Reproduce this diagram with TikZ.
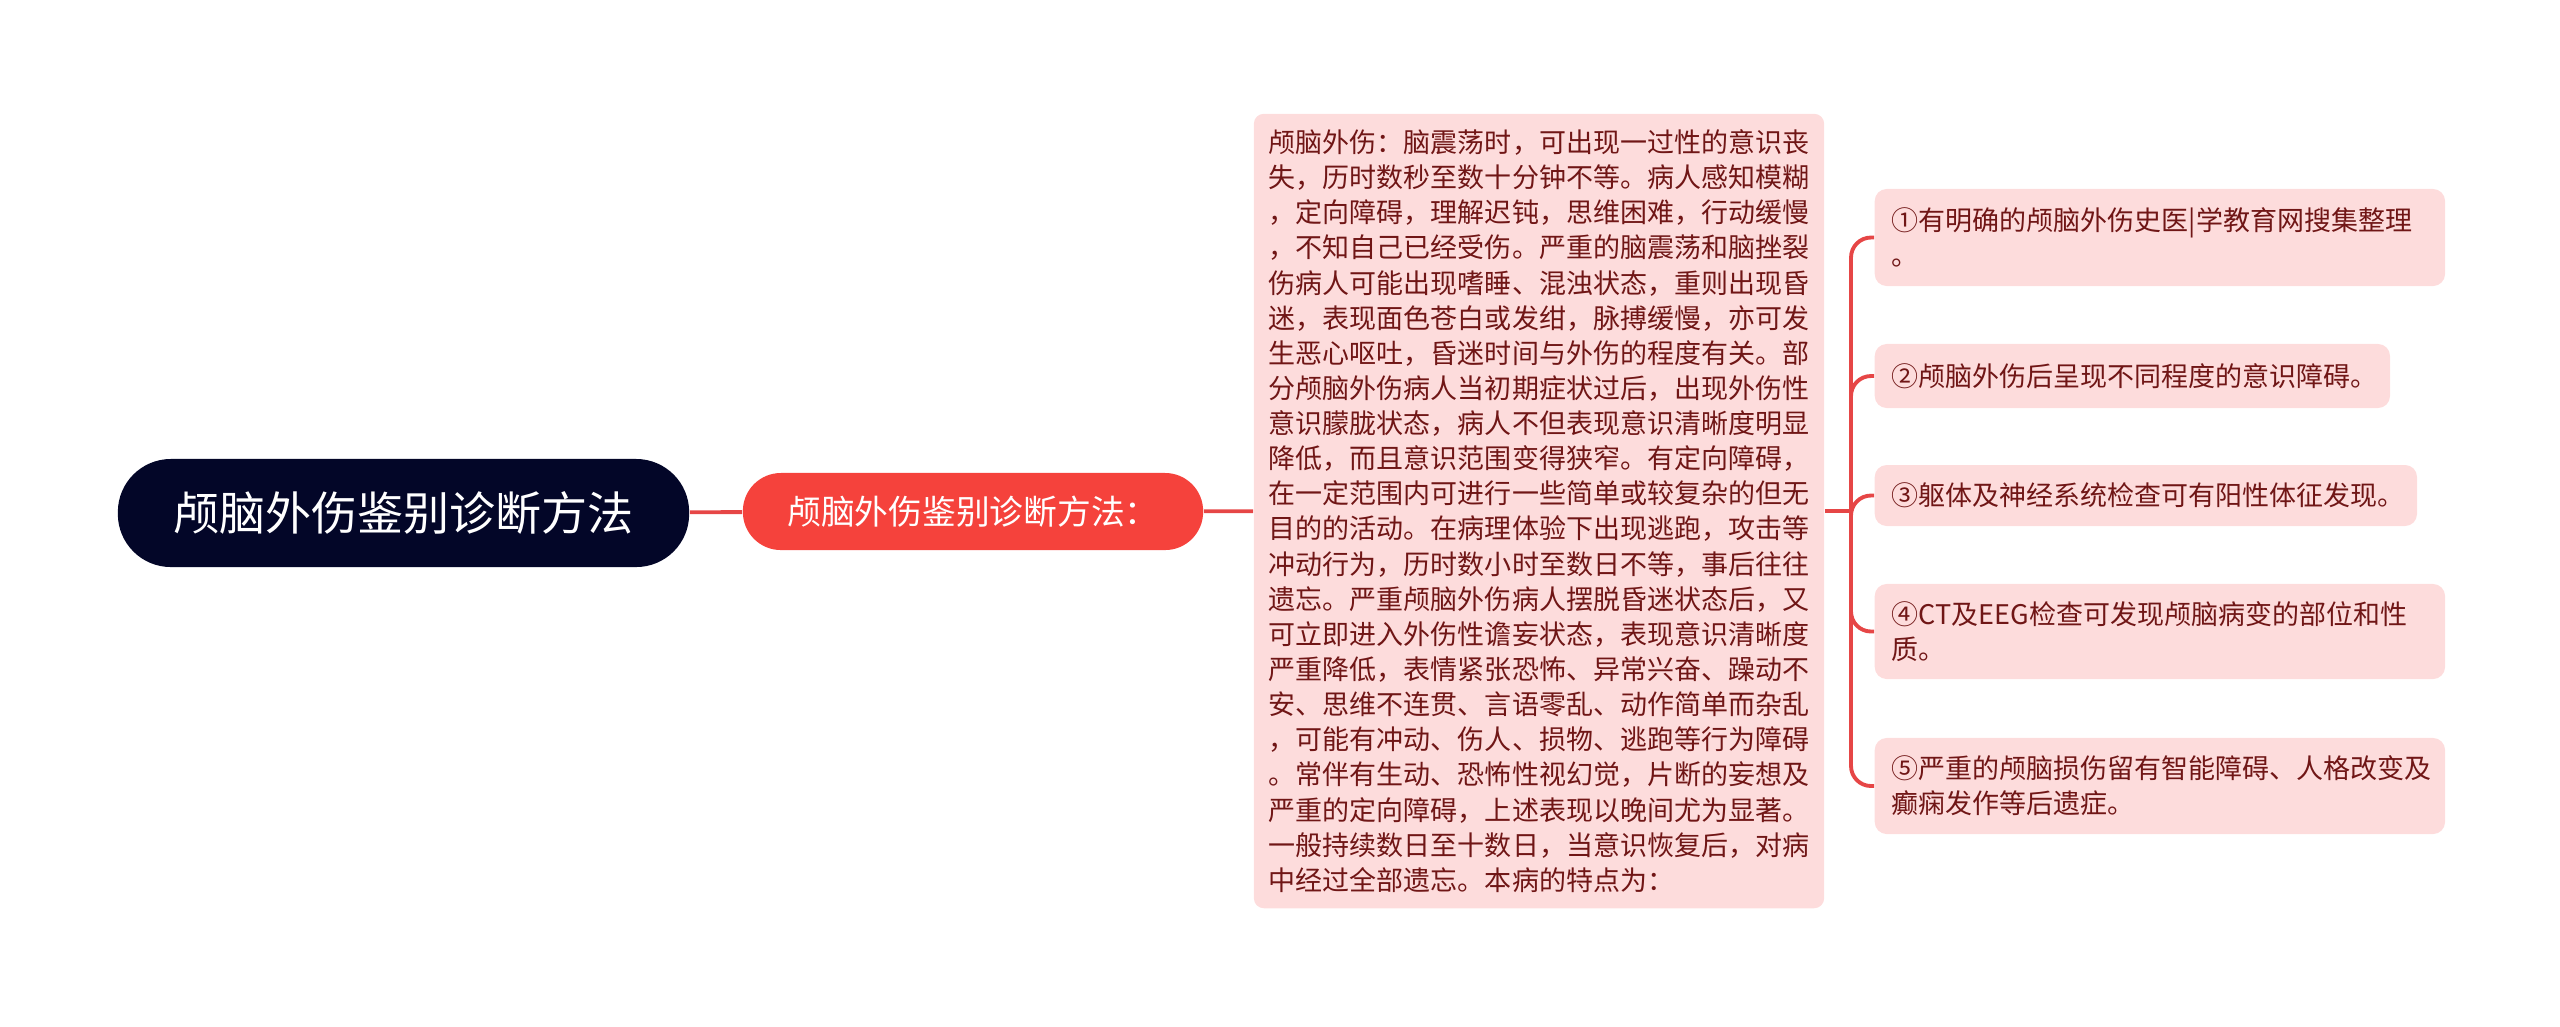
\documentclass[tikz,border=0pt]{standalone}
\usepackage{fontspec}
\setmainfont{Noto Sans CJK SC}
\definecolor{rootfill}{RGB}{3,6,40}
\definecolor{subfill}{RGB}{245,66,60}
\definecolor{leaffill}{RGB}{253,220,220}
\definecolor{leaftext}{RGB}{112,22,22}
\definecolor{linkred}{RGB}{230,70,70}
\tikzset{
    rootbox/.style={fill=rootfill, text=white, rounded corners=0.53cm,
        minimum width=5.71cm, minimum height=1.08cm, inner sep=0pt,
        font=\fontsize{13.1}{15}\selectfont},
    subbox/.style={fill=subfill, text=white, rounded corners=0.38cm,
        minimum width=4.6cm, minimum height=0.77cm, inner sep=0pt,
        font=\fontsize{9.6}{11}\selectfont},
    descbox/.style={fill=leaffill, text=leaftext, rounded corners=0.1cm,
        minimum width=5.7cm, minimum height=7.94cm, align=left, inner sep=0pt,
        font=\fontsize{7.68}{9.99}\selectfont},
    itembox/.style={fill=leaffill, text=leaftext, rounded corners=0.12cm,
        anchor=west, align=left, inner xsep=0.17cm, inner ysep=0pt,
        font=\fontsize{7.68}{9.99}\selectfont},
    link/.style={draw=linkred, line width=1.1pt},
}
\begin{document}
\begin{tikzpicture}[x=0.01cm, y=-0.01cm]
    \useasboundingbox (0,0) rectangle (2560,1026);

    \node[rootbox] (root) at (403.5,513) {颅脑外伤鉴别诊断方法};
    \node[subbox] (sub) at (973,511.5) {颅脑外伤鉴别诊断方法：};
    \node[descbox] (desc) at (1539,511) {颅脑外伤：脑震荡时，可出现一过性的意识丧\\
        失，历时数秒至数十分钟不等。病人感知模糊\\
        ，定向障碍，理解迟钝，思维困难，行动缓慢\\
        ，不知自己已经受伤。严重的脑震荡和脑挫裂\\
        伤病人可能出现嗜睡、混浊状态，重则出现昏\\
        迷，表现面色苍白或发绀，脉搏缓慢，亦可发\\
        生恶心呕吐，昏迷时间与外伤的程度有关。部\\
        分颅脑外伤病人当初期症状过后，出现外伤性\\
        意识朦胧状态，病人不但表现意识清晰度明显\\
        降低，而且意识范围变得狭窄。有定向障碍，\\
        在一定范围内可进行一些简单或较复杂的但无\\
        目的的活动。在病理体验下出现逃跑，攻击等\\
        冲动行为，历时数小时至数日不等，事后往往\\
        遗忘。严重颅脑外伤病人摆脱昏迷状态后，又\\
        可立即进入外伤性谵妄状态，表现意识清晰度\\
        严重降低，表情紧张恐怖、异常兴奋、躁动不\\
        安、思维不连贯、言语零乱、动作简单而杂乱\\
        ，可能有冲动、伤人、损物、逃跑等行为障碍\\
        。常伴有生动、恐怖性视幻觉，片断的妄想及\\
        严重的定向障碍，上述表现以晚间尤为显著。\\
        一般持续数日至十数日，当意识恢复后，对病\\
        中经过全部遗忘。本病的特点为：};

    \node[itembox, text width=5.36cm, minimum height=0.97cm] (p1) at (1874,237.5)
        {①有明确的颅脑外伤史医|学教育网搜集整理\\。};
    \node[itembox, text width=4.81cm, minimum height=0.64cm] (p2) at (1874,376)
        {②颅脑外伤后呈现不同程度的意识障碍。};
    \node[itembox, text width=5.08cm, minimum height=0.61cm] (p3) at (1874,495.5)
        {③躯体及神经系统检查可有阳性体征发现。};
    \node[itembox, text width=5.36cm, minimum height=0.95cm] (p4) at (1874,631.5)
        {④CT及EEG检查可发现颅脑病变的部位和性\\质。};
    \node[itembox, text width=5.36cm, minimum height=0.96cm] (p5) at (1874,786)
        {⑤严重的颅脑损伤留有智能障碍、人格改变及\\癫痫发作等后遗症。};

    \coordinate (fork) at (1851,511);

    \draw[link] (root) -- (sub);
    \draw[link] (sub) -- (desc);
    \draw[link] (desc.east) -- (fork);
    \foreach \i in {1,...,5}
        \draw[link, rounded corners=0.2cm] (fork) |- (p\i.west);
\end{tikzpicture}
\end{document}
